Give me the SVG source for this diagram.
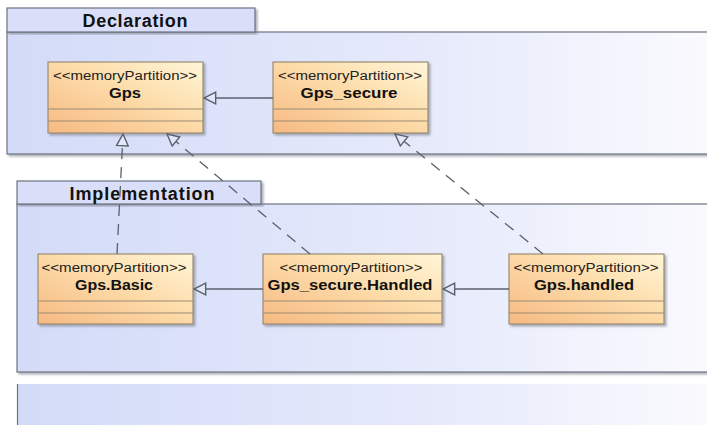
<svg xmlns="http://www.w3.org/2000/svg" width="707" height="425" viewBox="0 0 707 425">
<defs>
<linearGradient id="pkg" x1="0" y1="0" x2="1" y2="0">
<stop offset="0" stop-color="#d3dbf8"/>
<stop offset="0.6" stop-color="#e6eafb"/>
<stop offset="1" stop-color="#fbfbfe"/>
</linearGradient>
<linearGradient id="node" x1="0" y1="1" x2="1" y2="0">
<stop offset="0" stop-color="#f6b982"/>
<stop offset="0.55" stop-color="#fddcaa"/>
<stop offset="1" stop-color="#fff6d8"/>
</linearGradient>
<marker id="tri" markerUnits="userSpaceOnUse" markerWidth="14" markerHeight="14" viewBox="0 0 12 12" refX="11" refY="6" orient="auto">
<path d="M1,1 L11,6 L1,11 Z" fill="#e2e7fb" stroke="#5a606c" stroke-width="1.2"/>
</marker>
<filter id="sh" x="-5%" y="-5%" width="110%" height="115%">
<feDropShadow dx="2" dy="2" stdDeviation="0.8" flood-color="#7a7f8a" flood-opacity="0.6"/>
</filter>
</defs>
<style>
.pkgbody{fill:url(#pkg);stroke:#6d7380;stroke-width:1.2}
.tab{fill:#d9dff9;stroke:#6d7380;stroke-width:1.2}
.ptitle{font-family:"Liberation Sans",Arial,sans-serif;font-weight:bold;font-size:18px;fill:#111;text-anchor:middle}
.box{fill:url(#node);stroke:#9c8c72;stroke-width:1.2}
.sep{stroke:#9c8c72;stroke-width:1.2}
.st{font-family:"Liberation Sans",Arial,sans-serif;font-size:12.5px;fill:#222;text-anchor:middle}
.nm{font-family:"Liberation Sans",Arial,sans-serif;font-weight:bold;font-size:14px;fill:#111;text-anchor:middle}
.gen{stroke:#5a606c;stroke-width:1.3;fill:none;marker-end:url(#tri)}
.real{stroke:#5a606c;stroke-width:1.3;fill:none;stroke-dasharray:11 8;marker-end:url(#tri)}
</style>

<g id="pkg-declaration">
<rect class="pkgbody" x="7" y="32" width="710" height="122" filter="url(#sh)"/>
<rect class="tab" x="7" y="8" width="248" height="24" filter="url(#sh)"/>
<text class="ptitle" x="135" y="27" textLength="105" lengthAdjust="spacing">Declaration</text>
</g>

<g id="pkg-implementation">
<rect class="pkgbody" x="17" y="204" width="700" height="168" filter="url(#sh)"/>
<rect class="tab" x="17" y="181" width="244" height="23" filter="url(#sh)"/>
<text class="ptitle" x="142" y="200" textLength="145" lengthAdjust="spacing">Implementation</text>
</g>

<g id="pkg-third">
<rect x="17" y="384" width="700" height="60" fill="url(#pkg)"/>
<line x1="17.5" y1="384" x2="17.5" y2="425" stroke="#6d7380" stroke-width="1.2"/>
</g>

<g id="node-gps">
<rect class="box" x="48" y="62" width="155" height="71" filter="url(#sh)"/>
<line class="sep" x1="48" y1="109" x2="203" y2="109"/>
<line class="sep" x1="48" y1="121" x2="203" y2="121"/>
<text class="st" x="125" y="80" textLength="144" lengthAdjust="spacingAndGlyphs">&lt;&lt;memoryPartition&gt;&gt;</text>
<text class="nm" x="125" y="98" textLength="32" lengthAdjust="spacingAndGlyphs">Gps</text>
</g>

<g id="node-gps-secure">
<rect class="box" x="273" y="62" width="155" height="71" filter="url(#sh)"/>
<line class="sep" x1="273" y1="109" x2="428" y2="109"/>
<line class="sep" x1="273" y1="121" x2="428" y2="121"/>
<text class="st" x="350" y="80" textLength="144" lengthAdjust="spacingAndGlyphs">&lt;&lt;memoryPartition&gt;&gt;</text>
<text class="nm" x="349" y="98" textLength="97" lengthAdjust="spacingAndGlyphs">Gps_secure</text>
</g>

<g id="node-gps-basic">
<rect class="box" x="38" y="254" width="155" height="70" filter="url(#sh)"/>
<line class="sep" x1="38" y1="301" x2="193" y2="301"/>
<line class="sep" x1="38" y1="313" x2="193" y2="313"/>
<text class="st" x="114" y="272" textLength="145" lengthAdjust="spacingAndGlyphs">&lt;&lt;memoryPartition&gt;&gt;</text>
<text class="nm" x="114" y="290" textLength="78" lengthAdjust="spacingAndGlyphs">Gps.Basic</text>
</g>

<g id="node-gps-secure-handled">
<rect class="box" x="263" y="254" width="179" height="70" filter="url(#sh)"/>
<line class="sep" x1="263" y1="301" x2="442" y2="301"/>
<line class="sep" x1="263" y1="313" x2="442" y2="313"/>
<text class="st" x="351" y="272" textLength="143" lengthAdjust="spacingAndGlyphs">&lt;&lt;memoryPartition&gt;&gt;</text>
<text class="nm" x="350" y="290" textLength="165" lengthAdjust="spacingAndGlyphs">Gps_secure.Handled</text>
</g>

<g id="node-gps-handled">
<rect class="box" x="509" y="254" width="155" height="70" filter="url(#sh)"/>
<line class="sep" x1="509" y1="301" x2="664" y2="301"/>
<line class="sep" x1="509" y1="313" x2="664" y2="313"/>
<text class="st" x="586" y="272" textLength="145" lengthAdjust="spacingAndGlyphs">&lt;&lt;memoryPartition&gt;&gt;</text>
<text class="nm" x="584" y="290" textLength="100" lengthAdjust="spacingAndGlyphs">Gps.handled</text>
</g>

<g id="connectors">
<line class="gen" x1="273" y1="98" x2="204" y2="98"/>
<line class="gen" x1="263" y1="289" x2="194" y2="289"/>
<line class="gen" x1="509" y1="289" x2="443" y2="289"/>
<line class="real" x1="117" y1="254" x2="123" y2="134"/>
<line class="real" x1="310" y1="254" x2="167" y2="134"/>
<line class="real" x1="543" y1="254" x2="395" y2="134"/>
</g>
</svg>
